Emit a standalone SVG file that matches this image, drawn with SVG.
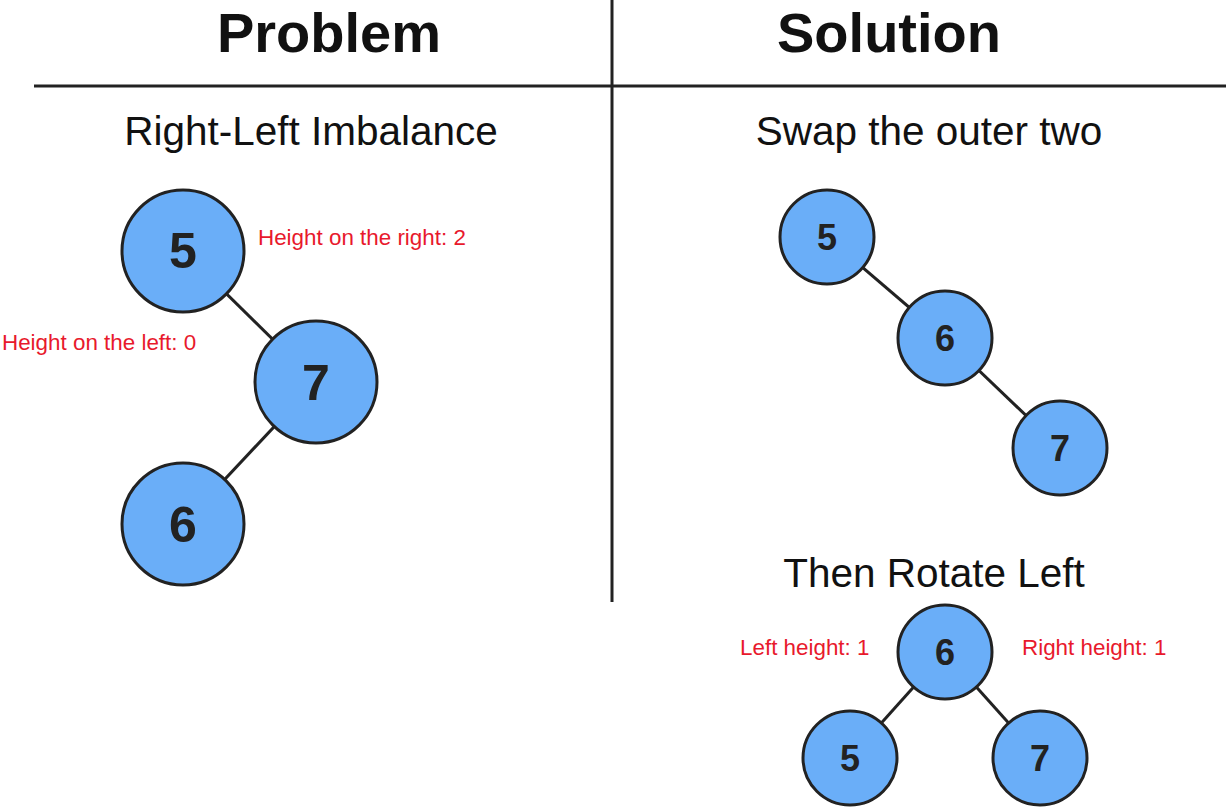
<svg xmlns="http://www.w3.org/2000/svg" width="1226" height="808" viewBox="0 0 1226 808">
<style>
.n{fill:#6aaef8;stroke:#222;stroke-width:3}
.big{font-family:"Liberation Sans",Arial,sans-serif;font-weight:bold;font-size:50px;fill:#222;text-anchor:middle}
.sm{font-family:"Liberation Sans",Arial,sans-serif;font-weight:bold;font-size:36px;fill:#222;text-anchor:middle}
.h{font-family:"Liberation Sans",Arial,sans-serif;font-weight:bold;font-size:56px;fill:#111;text-anchor:middle}
.s{font-family:"Liberation Sans",Arial,sans-serif;font-size:40.5px;fill:#111;text-anchor:middle}
.r{font-family:"Liberation Sans",Arial,sans-serif;font-size:22.4px;fill:#e8192c}
.e{stroke:#222;stroke-width:3}
</style>
<rect width="1226" height="808" fill="#fff"/>
<g id="frame">
<line x1="34" y1="86" x2="1226" y2="86" class="e"/>
<line x1="612" y1="0" x2="612" y2="602" class="e"/>
<text class="h" x="329" y="52">Problem</text>
<text class="h" x="889" y="52">Solution</text>
<text class="s" x="311" y="145">Right-Left Imbalance</text>
<text class="s" x="929" y="145">Swap the outer two</text>
<text class="s" x="934" y="587">Then Rotate Left</text>
<text class="r" x="258" y="245">Height on the right: 2</text>
<text class="r" x="2" y="350">Height on the left: 0</text>
<text class="r" x="740" y="655">Left height: 1</text>
<text class="r" x="1022" y="655">Right height: 1</text>
</g>
<g id="connectors">
<line x1="183" y1="251" x2="316" y2="382" class="e"/>
<line x1="316" y1="382" x2="183" y2="524" class="e"/>
<line x1="827" y1="237" x2="945" y2="338" class="e"/>
<line x1="945" y1="338" x2="1060" y2="448" class="e"/>
<line x1="945" y1="652" x2="850" y2="758" class="e"/>
<line x1="945" y1="652" x2="1040" y2="758" class="e"/>
</g>
<g id="p5"><circle class="n" cx="183" cy="251" r="61"/><text class="big" x="183" y="268">5</text></g>
<g id="p7"><circle class="n" cx="316" cy="382" r="61"/><text class="big" x="316" y="400">7</text></g>
<g id="p6"><circle class="n" cx="183" cy="524" r="61"/><text class="big" x="183" y="542">6</text></g>
<g id="s5"><circle class="n" cx="827" cy="237" r="47"/><text class="sm" x="827" y="250">5</text></g>
<g id="s6"><circle class="n" cx="945" cy="338" r="47"/><text class="sm" x="945" y="351">6</text></g>
<g id="s7"><circle class="n" cx="1060" cy="448" r="47"/><text class="sm" x="1060" y="461">7</text></g>
<g id="t6"><circle class="n" cx="945" cy="652" r="47"/><text class="sm" x="945" y="665">6</text></g>
<g id="t5"><circle class="n" cx="850" cy="758" r="47"/><text class="sm" x="850" y="771">5</text></g>
<g id="t7"><circle class="n" cx="1040" cy="758" r="47"/><text class="sm" x="1040" y="771">7</text></g>
</svg>
